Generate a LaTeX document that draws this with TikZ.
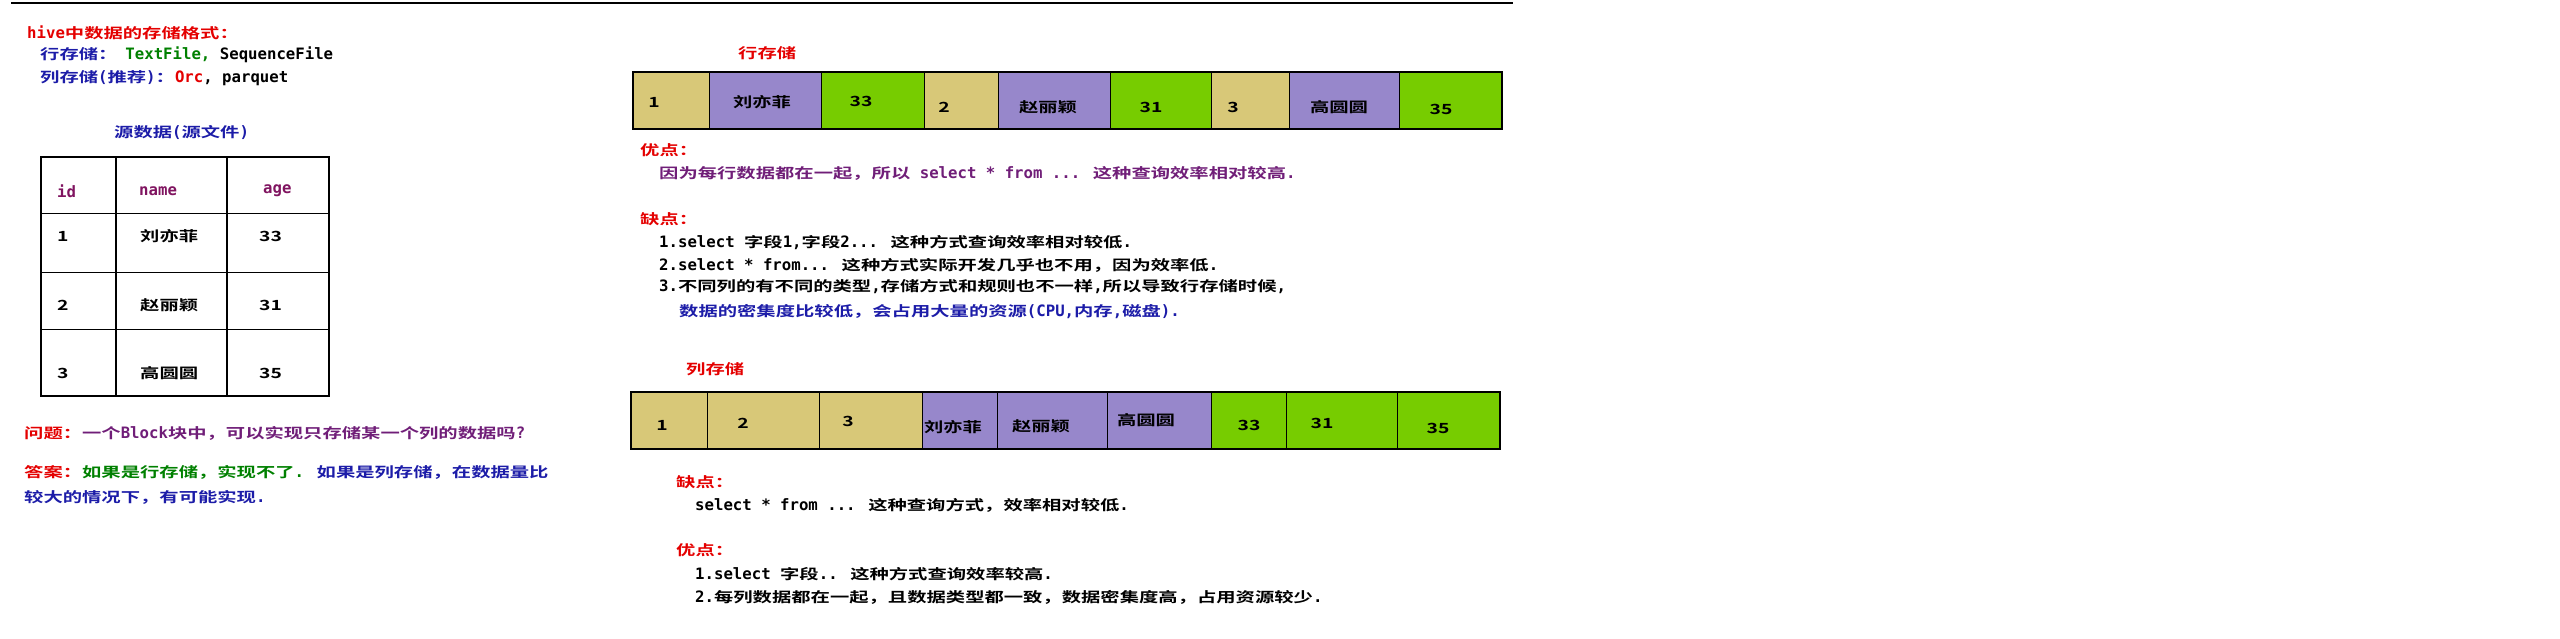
\documentclass[tikz,border=0pt]{standalone}
\usepackage{fontspec}
\setmainfont{Noto Sans CJK SC}[FakeStretch=1.38,BoldFont={Noto Sans CJK SC Bold},BoldFeatures={FakeStretch=1.38}]
\newfontfamily\latfont{DejaVu Sans Mono}[Scale=1.12]
\newcommand{\entxt}[1]{{\latfont\bfseries #1}}
\definecolor{hred}{RGB}{228,0,0}
\definecolor{hblue}{RGB}{28,28,168}
\definecolor{hgreen}{RGB}{0,128,0}
\definecolor{hplum}{RGB}{112,30,120}
\definecolor{hhead}{RGB}{128,20,96}
\definecolor{tanfill}{RGB}{216,200,120}
\definecolor{lilacfill}{RGB}{151,135,203}
\definecolor{limefill}{RGB}{119,204,0}
\tikzset{
  txt/.style={anchor=west,inner sep=0pt},
  ctxt/.style={inner sep=0pt},
  cellbox/.style={draw,line width=1bp,anchor=north west,inner sep=0pt,outer sep=0pt,minimum height=57bp},
  tancell/.style={cellbox,fill=tanfill},
  lilaccell/.style={cellbox,fill=lilacfill},
  limecell/.style={cellbox,fill=limefill},
}
\begin{document}
\begin{tikzpicture}[x=1bp,y=-1bp,font=\fontsize{14bp}{16bp}\selectfont\bfseries]
\useasboundingbox (0,0) rectangle (2560,639);
% top rule
\coordinate (topl) at (11,3);
\coordinate (topr) at (1513,3);
\draw[line width=1.5bp] (topl) -- (topr);
% storage formats
\node[txt,text=hred] (title) at (27,33) {\entxt{hive}中数据的存储格式：};
\node[txt] (rowfmt) at (40,55) {\textcolor{hblue}{行存储：}\hspace{8bp}\textcolor{hgreen}{\entxt{TextFile,}}\entxt{ SequenceFile}};
\node[txt] (colfmt) at (40,78) {\textcolor{hblue}{列存储\entxt{(}推荐\entxt{)}：}\textcolor{hred}{\entxt{Orc}}\entxt{, parquet}};
\node[txt,text=hblue] (srccap) at (114,133) {源数据\entxt{(}源文件\entxt{)}};
% source table
\draw[line width=2bp] (41,157) rectangle (329,396);
\draw[line width=2bp] (116,157) -- (116,396);
\draw[line width=2bp] (227,157) -- (227,396);
\draw[line width=1bp] (41,214) -- (329,214);
\draw[line width=1bp] (41,272) -- (329,272);
\draw[line width=1bp] (41,329) -- (329,329);
\node[txt,text=hhead] (hid) at (57,191) {\entxt{id}};
\node[txt,text=hhead] (hname) at (139,191) {\entxt{name}};
\node[txt,text=hhead] (hage) at (263,191) {\entxt{age}};
\node[txt] (id1) at (57,236) {1};
\node[txt] (name1) at (140,236) {刘亦菲};
\node[txt] (age1) at (259,236) {33};
\node[txt] (id2) at (57,305) {2};
\node[txt] (name2) at (140,305) {赵丽颖};
\node[txt] (age2) at (259,305) {31};
\node[txt] (id3) at (57,373) {3};
\node[txt] (name3) at (140,373) {高圆圆};
\node[txt] (age3) at (259,373) {35};
% question and answer
\node[txt] (ques) at (24,433) {\textcolor{hred}{问题：}\textcolor{hplum}{一个\entxt{Block}块中，可以实现只存储某一个列的数据吗\entxt{?}}};
\node[txt] (ans1) at (24,472) {\textcolor{hred}{答案：}\textcolor{hgreen}{如果是行存储，实现不了\entxt{. }}\textcolor{hblue}{如果是列存储，在数据量比}};
\node[txt,text=hblue] (ans2) at (24,497) {较大的情况下，有可能实现\entxt{.}};
% row storage
\node[txt,text=hred] (rowcap) at (738,53) {行存储};
\node[tancell,minimum width=76bp] (r1) at (633,72) {};
\node[lilaccell,minimum width=112bp] (r2) at (r1.north east) {};
\node[limecell,minimum width=103bp] (r3) at (r2.north east) {};
\node[tancell,minimum width=74bp] (r4) at (r3.north east) {};
\node[lilaccell,minimum width=112bp] (r5) at (r4.north east) {};
\node[limecell,minimum width=101bp] (r6) at (r5.north east) {};
\node[tancell,minimum width=78bp] (r7) at (r6.north east) {};
\node[lilaccell,minimum width=110bp] (r8) at (r7.north east) {};
\node[limecell,minimum width=103bp] (r9) at (r8.north east) {};
\draw[line width=2bp] (r1.north west) rectangle (r9.south east);
\node[ctxt] (r1t) at (654,102) {1};
\node[ctxt] (r2t) at (762,102) {刘亦菲};
\node[ctxt] (r3t) at (861,101) {33};
\node[ctxt] (r4t) at (944,107) {2};
\node[ctxt] (r5t) at (1048,107) {赵丽颖};
\node[ctxt] (r6t) at (1151,107) {31};
\node[ctxt] (r7t) at (1233,107) {3};
\node[ctxt] (r8t) at (1339,107) {高圆圆};
\node[ctxt] (r9t) at (1441,109) {35};
% row storage notes
\node[txt,text=hred] (rpro) at (640,150) {优点：};
\node[txt,text=hplum] (rpro1) at (659,173) {因为每行数据都在一起，所以\entxt{ select * from ... }这种查询效率相对较高\entxt{.}};
\node[txt,text=hred] (rcon) at (640,219) {缺点：};
\node[txt] (rcon1) at (659,243) {\entxt{1.select }字段\entxt{1,}字段\entxt{2... }这种方式查询效率相对较低\entxt{.}};
\node[txt] (rcon2) at (659,265) {\entxt{2.select * from... }这种方式实际开发几乎也不用，因为效率低\entxt{.}};
\node[txt] (rcon3) at (659,287) {\entxt{3.}不同列的有不同的类型\entxt{,}存储方式和规则也不一样\entxt{,}所以导致行存储时候\entxt{,}};
\node[txt,text=hblue] (rcon4) at (679,312) {数据的密集度比较低，会占用大量的资源\entxt{(CPU,}内存\entxt{,}磁盘\entxt{).}};
% column storage
\node[txt,text=hred] (colcap) at (686,369) {列存储};
\node[tancell,minimum width=76bp] (c1) at (631,392) {};
\node[tancell,minimum width=112bp] (c2) at (c1.north east) {};
\node[tancell,minimum width=103bp] (c3) at (c2.north east) {};
\node[lilaccell,minimum width=75bp] (c4) at (c3.north east) {};
\node[lilaccell,minimum width=110bp] (c5) at (c4.north east) {};
\node[lilaccell,minimum width=104bp] (c6) at (c5.north east) {};
\node[limecell,minimum width=75bp] (c7) at (c6.north east) {};
\node[limecell,minimum width=111bp] (c8) at (c7.north east) {};
\node[limecell,minimum width=103bp] (c9) at (c8.north east) {};
\draw[line width=2bp] (c1.north west) rectangle (c9.south east);
\node[ctxt] (c1t) at (662,425) {1};
\node[ctxt] (c2t) at (743,423) {2};
\node[ctxt] (c3t) at (848,421) {3};
\node[ctxt] (c4t) at (953,427) {刘亦菲};
\node[ctxt] (c5t) at (1041,426) {赵丽颖};
\node[ctxt] (c6t) at (1146,420) {高圆圆};
\node[ctxt] (c7t) at (1249,425) {33};
\node[ctxt] (c8t) at (1322,423) {31};
\node[ctxt] (c9t) at (1438,428) {35};
% column storage notes
\node[txt,text=hred] (ccon) at (676,482) {缺点：};
\node[txt] (ccon1) at (695,505) {\entxt{select * from ... }这种查询方式，效率相对较低\entxt{.}};
\node[txt,text=hred] (cpro) at (676,550) {优点：};
\node[txt] (cpro1) at (695,574) {\entxt{1.select }字段\entxt{.. }这种方式查询效率较高\entxt{.}};
\node[txt] (cpro2) at (695,597) {\entxt{2.}每列数据都在一起，且数据类型都一致，数据密集度高，占用资源较少\entxt{.}};
\end{tikzpicture}
\end{document}
